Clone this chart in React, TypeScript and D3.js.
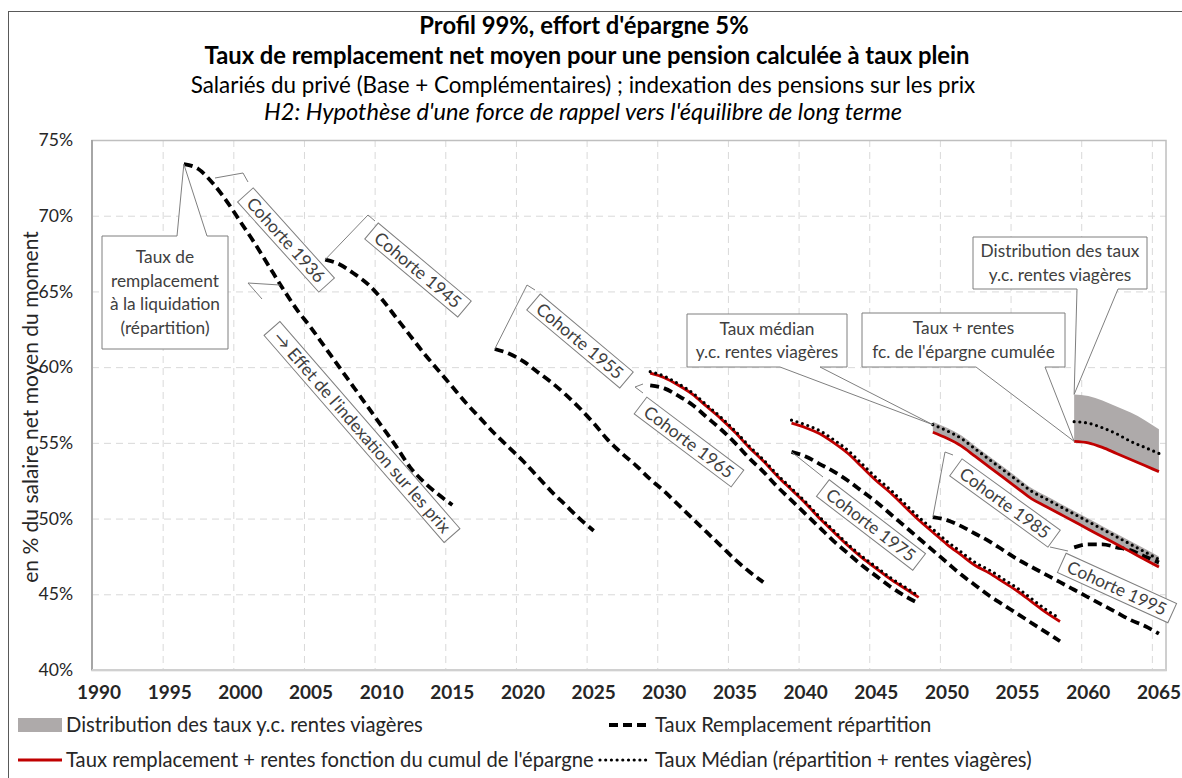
import React from "react";
import * as d3 from "d3";

const W = 1182;
const H = 778;
const plot = { left: 92, right: 1166, top: 140, bottom: 670 };

const yearTicks = [1990, 1995, 2000, 2005, 2010, 2015, 2020, 2025, 2030, 2035, 2040, 2045, 2050, 2055, 2060, 2065];
const pctTicks = [40, 45, 50, 55, 60, 65, 70, 75];

// Taux remplacement répartition (black dashed), one array per cohort, first value = first year
const start1936 = 1996;
const rep1936 = [73.4, 73.1, 72.2, 71.0, 69.6, 68.2, 66.7, 65.2, 63.8, 62.6, 61.3, 60.0, 58.7, 57.4, 56.1, 54.8, 53.4, 52.4, 51.6, 50.9];
const start1945 = 2006;
const rep1945 = [67.1, 66.8, 66.2, 65.5, 64.5, 63.3, 62.1, 60.9, 59.8, 58.7, 57.6, 56.6, 55.6, 54.7, 53.8, 52.8, 51.8, 50.9, 50.0, 49.2];
const start1955 = 2018;
const rep1955 = [61.2, 60.9, 60.4, 59.7, 59.0, 58.2, 57.3, 56.3, 55.2, 54.3, 53.5, 52.6, 51.8, 50.9, 50.0, 49.1, 48.2, 47.3, 46.5, 45.8];
const start1965 = 2029;
const rep1965 = [58.8, 58.6, 58.1, 57.5, 56.7, 55.9, 55.0, 54.0, 53.1, 52.1, 51.2, 50.3, 49.4, 48.5, 47.7, 46.9, 46.2, 45.5, 44.9, 44.4];
const start1975 = 2039;
const rep1975 = [54.4, 54.1, 53.6, 53.1, 52.5, 51.8, 51.1, 50.3, 49.5, 48.7, 47.9, 47.1, 46.3, 45.6, 44.9, 44.3, 43.7, 43.1, 42.5, 41.9];
const start1985 = 2049;
const rep1985 = [50.1, 49.9, 49.5, 49.0, 48.5, 47.9, 47.3, 46.8, 46.3, 45.8, 45.3, 44.8, 44.3, 43.8, 43.3, 42.9, 42.4];
const start1995 = 2059;
const rep1995 = [48.1, 48.3, 48.3, 48.1, 47.9, 47.5, 47.1];

// Taux remplacement + rentes fonction du cumul de l'épargne (red)
const cum1965 = [59.6, 59.3, 58.8, 58.2, 57.4, 56.6, 55.7, 54.7, 53.8, 52.8, 51.9, 51.0, 50.0, 49.1, 48.2, 47.4, 46.7, 46.0, 45.4, 44.8];
const cum1975 = [56.3, 56.0, 55.6, 55.0, 54.3, 53.4, 52.5, 51.7, 50.8, 49.9, 49.1, 48.3, 47.6, 46.9, 46.4, 45.8, 45.2, 44.5, 43.8, 43.2];
const cum1985 = [55.7, 55.3, 54.8, 54.1, 53.4, 52.7, 52.0, 51.3, 50.8, 50.3, 49.8, 49.3, 48.8, 48.3, 47.8, 47.3, 46.8];
const cum1995 = [55.1, 55.0, 54.7, 54.3, 53.9, 53.5, 53.1];

// Taux médian (répartition + rentes viagères) (dotted)
const med1965 = [59.7, 59.4, 58.9, 58.3, 57.5, 56.7, 55.8, 54.8, 53.9, 52.9, 52.0, 51.1, 50.1, 49.2, 48.3, 47.5, 46.8, 46.1, 45.5, 44.9];
const med1975 = [56.5, 56.2, 55.8, 55.2, 54.5, 53.6, 52.7, 51.9, 51.0, 50.1, 49.3, 48.5, 47.8, 47.1, 46.6, 46.0, 45.4, 44.7, 44.0, 43.4];
const med1985 = [56.2, 55.8, 55.3, 54.6, 53.9, 53.2, 52.5, 51.8, 51.3, 50.8, 50.3, 49.8, 49.3, 48.8, 48.3, 47.8, 47.3];
const med1995 = [56.4, 56.3, 56.0, 55.6, 55.1, 54.7, 54.3];

// Distribution des taux y.c. rentes viagères (grey band, top edge; bottom edge = red)
const top1985 = [56.4, 56.0, 55.5, 54.8, 54.1, 53.4, 52.7, 52.0, 51.5, 51.0, 50.5, 50.0, 49.5, 49.0, 48.5, 48.0, 47.5];
const top1995 = [58.2, 58.1, 57.8, 57.4, 57.0, 56.5, 55.9];

const FONT = "Lato, 'Open Sans', sans-serif";
const GREY = "#7f7f7f";
const TXT = "#404040";

const x = d3.scaleLinear().domain([1990, 2066]).range([plot.left, plot.right]);
const y = d3.scaleLinear().domain([40, 75]).range([plot.bottom, plot.top]);
// each year is drawn in the middle of its slot
const xs = (yr: number) => x(yr + 0.5);

const linePath = (start: number, vals: number[]) =>
  d3
    .line<number>()
    .x((_, i) => xs(start + i))
    .y((d) => y(d))
    .curve(d3.curveMonotoneX)(vals) || "";

const bandPath = (start: number, lower: number[], upper: number[]) =>
  d3
    .area<number>()
    .x((_, i) => xs(start + i))
    .y0((_, i) => y(lower[i]))
    .y1((d) => y(d))
    .curve(d3.curveMonotoneX)(upper) || "";

const ctx = document.createElement("canvas").getContext("2d");
const textWidth = (t: string, font: string) => {
  if (!ctx) return t.length * 9;
  ctx.font = font;
  return ctx.measureText(t).width;
};

const repSeries = [
  [start1936, rep1936],
  [start1945, rep1945],
  [start1955, rep1955],
  [start1965, rep1965],
  [start1975, rep1975],
  [start1985, rep1985],
  [start1995, rep1995],
] as [number, number[]][];
const cumSeries = [
  [start1965, cum1965],
  [start1975, cum1975],
  [start1985, cum1985],
  [start1995, cum1995],
] as [number, number[]][];
const medSeries = [
  [start1965, med1965],
  [start1975, med1975],
  [start1985, med1985],
  [start1995, med1995],
] as [number, number[]][];

const TAG_SIZE = 17.4;

const Tag = ({ cx, cy, angle, text }: { cx: number; cy: number; angle: number; text: string }) => {
  const w = textWidth(text, `${TAG_SIZE}px Lato`) + 14;
  return (
    <g transform={`translate(${cx},${cy}) rotate(${angle})`}>
      <rect x={-w / 2} y={-10.5} width={w} height={21} fill="#fff" stroke={GREY} strokeWidth={1} />
      <text textAnchor="middle" dy="0.36em" fontSize={TAG_SIZE} fill={TXT}>
        {text}
      </text>
    </g>
  );
};

// rectangular callout with a wedge pointing at (ax, ay)
const Callout = ({
  x0, y0, x1, y1, w0, w1, ax, ay, lines, side,
}: {
  x0: number; y0: number; x1: number; y1: number; w0: number; w1: number;
  ax: number; ay: number; lines: string[]; side: "top" | "bottom";
}) => {
  const d =
    side === "top"
      ? `M${x0},${y0} H${w0} L${ax},${ay} L${w1},${y0} H${x1} V${y1} H${x0} Z`
      : `M${x0},${y0} H${x1} V${y1} H${w1} L${ax},${ay} L${w0},${y1} H${x0} Z`;
  const cx = (x0 + x1) / 2;
  const lh = 23.5;
  const cy = (y0 + y1) / 2 - ((lines.length - 1) * lh) / 2;
  return (
    <g>
      <path d={d} fill="#fff" stroke={GREY} strokeWidth={1} />
      {lines.map((l, i) => (
        <text key={i} x={cx} y={cy + i * lh} dy="0.36em" textAnchor="middle" fontSize={17.3} fill={TXT}>
          {l}
        </text>
      ))}
    </g>
  );
};

const Leader = ({ pts }: { pts: [number, number][] }) => (
  <polyline points={pts.map((p) => p.join(",")).join(" ")} fill="none" stroke={GREY} strokeWidth={1} />
);

export default function App() {
  return (
    <svg width={W} height={H} style={{ position: "absolute", left: 0, top: 0, fontFamily: FONT }}>
      <rect x={0} y={0} width={W} height={H} fill="#fff" />
      <rect x={8.5} y={11.5} width={W} height={H} fill="none" stroke="#595959" strokeWidth={1} />

      {/* titles */}
      <g textAnchor="middle" fill="#000">
        <text x={584} y={34} fontSize={23.8} fontWeight="bold">Profil 99%, effort d'épargne 5%</text>
        <text x={587} y={64} fontSize={23.8} fontWeight="bold">
          Taux de remplacement net moyen pour une pension calculée à taux plein
        </text>
        <text x={583} y={93} fontSize={22.4}>
          Salariés du privé (Base + Complémentaires) ; indexation des pensions sur les prix
        </text>
        <text x={583} y={120} fontSize={23.6} fontStyle="italic">
          H2: Hypothèse d'une force de rappel vers l'équilibre de long terme
        </text>
      </g>

      {/* grid */}
      <g stroke="#d9d9d9" strokeWidth={1} strokeDasharray="7,5">
        {pctTicks.slice(1, -1).map((p) => (
          <line key={p} x1={plot.left} x2={plot.right} y1={y(p) + 0.5} y2={y(p) + 0.5} />
        ))}
        {yearTicks.slice(1).map((t) => (
          <line key={t} x1={x(t) + 0.5} x2={x(t) + 0.5} y1={plot.top} y2={plot.bottom} />
        ))}
      </g>
      <rect
        x={plot.left}
        y={plot.top + 0.5}
        width={plot.right - plot.left}
        height={plot.bottom - plot.top}
        fill="none"
        stroke="#bfbfbf"
        strokeWidth={1.5}
      />
      <line x1={plot.left} x2={plot.left} y1={plot.top} y2={plot.bottom} stroke="#a6a6a6" strokeWidth={2} />
      <line x1={plot.left} x2={plot.right} y1={plot.bottom} y2={plot.bottom} stroke="#d0d0d0" strokeWidth={2} />

      {/* axes labels */}
      <g fontSize={17.6} fill="#262626" textAnchor="end">
        {pctTicks.map((p) => (
          <text key={p} x={73} y={y(p)} dy="0.35em">{p}%</text>
        ))}
      </g>
      <g fontSize={19} fontWeight="bold" fill="#262626" textAnchor="middle">
        {yearTicks.map((t) => (
          <text key={t} x={xs(t)} y={699}>{t}</text>
        ))}
      </g>
      <text
        transform={`translate(38,${(plot.top + plot.bottom) / 2 + 2}) rotate(-90)`}
        textAnchor="middle"
        fontSize={21}
        fill="#262626"
      >
        en % du salaire net moyen du moment
      </text>

      {/* series */}
      <path d={bandPath(start1985, cum1985, top1985)} fill="#aeaaaa" />
      <path d={bandPath(start1995, cum1995, top1995)} fill="#aeaaaa" />
      {repSeries.map(([s, v], i) => (
        <path key={"r" + i} d={linePath(s, v)} fill="none" stroke="#000" strokeWidth={3.8} strokeDasharray="9,5" />
      ))}
      {cumSeries.map(([s, v], i) => (
        <path key={"c" + i} d={linePath(s, v)} fill="none" stroke="#c00000" strokeWidth={2.8} />
      ))}
      {medSeries.map(([s, v], i) => (
        <path
          key={"m" + i}
          d={linePath(s, v)}
          fill="none"
          stroke="#000"
          strokeWidth={3.2}
          strokeLinecap="round"
          strokeDasharray="0,5.7"
        />
      ))}

      {/* annotations */}
      <Callout
        x0={102} y0={236} x1={228} y1={349} w0={177} w1={207}
        ax={xs(start1936)} ay={y(rep1936[0])}
        lines={["Taux de", "remplacement", "à la liquidation", "(répartition)"]}
        side="top"
      />
      <Callout
        x0={687} y0={314} x1={847} y1={367} w0={780} w1={820}
        ax={xs(start1985)} ay={y(med1985[0])}
        lines={["Taux médian", "y.c. rentes viagères"]}
        side="bottom"
      />
      <Callout
        x0={862} y0={313} x1={1065} y1={367} w0={976} w1={1045}
        ax={xs(start1995)} ay={y(cum1995[0])}
        lines={["Taux + rentes", "fc. de l'épargne cumulée"]}
        side="bottom"
      />
      <Callout
        x0={973} y0={237} x1={1147} y1={289} w0={1077} w1={1118}
        ax={xs(start1995)} ay={y(top1995[0])}
        lines={["Distribution des taux", "y.c. rentes viagères"]}
        side="bottom"
      />

      <Leader pts={[[215, 178], [243, 173], [248, 182]]} />
      <Leader pts={[[xs(start1945), y(rep1945[0])], [368, 215], [375, 221]]} />
      <Leader pts={[[262, 299], [248, 283], [280, 285]]} />
      <Leader pts={[[xs(start1955), y(rep1955[0])], [527, 285], [535, 290]]} />
      <Leader pts={[[643, 384], [635, 387], [643, 393]]} />
      <Leader pts={[[xs(start1975), y(rep1975[0])], [823, 477]]} />
      <Leader pts={[[xs(start1985), y(rep1985[0])], [945, 452], [953, 455]]} />
      <Leader pts={[[1050, 547], [1068, 551]]} />

      <Tag cx={286} cy={240} angle={48} text="Cohorte 1936" />
      <Tag cx={418} cy={270} angle={40} text="Cohorte 1945" />
      <Tag cx={362} cy={432} angle={49} text="→ Effet de l'indexation sur les prix" />
      <Tag cx={580} cy={341} angle={40} text="Cohorte 1955" />
      <Tag cx={689} cy={442} angle={37} text="Cohorte 1965" />
      <Tag cx={871} cy={525} angle={37.5} text="Cohorte 1975" />
      <Tag cx={1005} cy={503} angle={36} text="Cohorte 1985" />
      <Tag cx={1117} cy={588} angle={24.5} text="Cohorte 1995" />

      {/* legend */}
      <g fontSize={20.2} fill="#262626">
        <rect x={18} y={718} width={44} height={14} fill="#aeaaaa" />
        <text x={66} y={725} dy="0.35em">Distribution des taux y.c. rentes viagères</text>
        <line x1={609} x2={650} y1={725} y2={725} stroke="#000" strokeWidth={3.8} strokeDasharray="9,5" />
        <text x={655} y={725} dy="0.35em">Taux Remplacement répartition</text>
        <line x1={18} x2={62} y1={760} y2={760} stroke="#c00000" strokeWidth={2.8} />
        <text x={66} y={760} dy="0.35em">Taux remplacement + rentes fonction du cumul de l'épargne</text>
        <line
          x1={600} x2={650} y1={760} y2={760}
          stroke="#000" strokeWidth={3.2} strokeLinecap="round" strokeDasharray="0,5.7"
        />
        <text x={655} y={760} dy="0.35em">Taux Médian (répartition + rentes viagères)</text>
      </g>
    </svg>
  );
}
